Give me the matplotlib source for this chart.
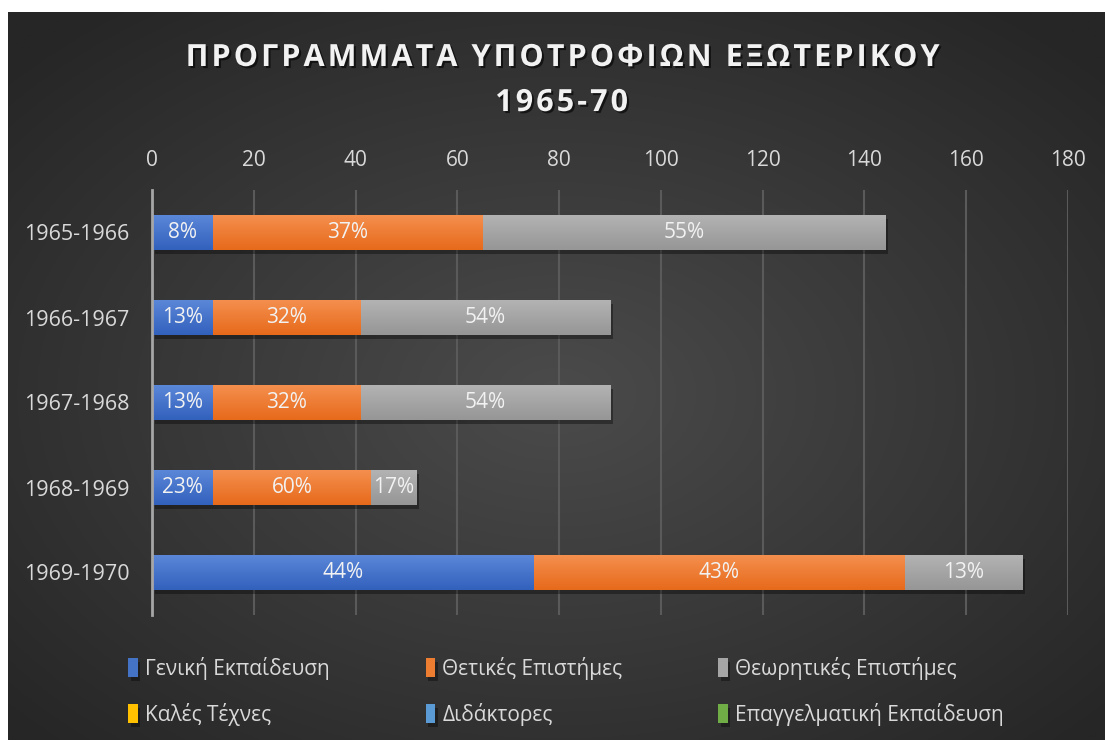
import matplotlib
matplotlib.use("Agg")
import matplotlib.pyplot as plt
import matplotlib.patheffects as pe
from matplotlib.colors import LinearSegmentedColormap
import numpy as np

# 字体
plt.rcParams["font.family"] = ["Open Sans", "Noto Sans", "DejaVu Sans"]

# 数据
years = ["1965-1966", "1966-1967", "1967-1968", "1968-1969", "1969-1970"]
series_names = ["Γενική Εκπαίδευση", "Θετικές Επιστήμες", "Θεωρητικές Επιστήμες",
                "Καλές Τέχνες", "Διδάκτορες", "Επαγγελματική Εκπαίδευση"]
general = [12, 12, 12, 12, 75]
science = [53, 29, 29, 31, 73]
theory = [79, 49, 49, 9, 23]
arts = [0, 0, 0, 0, 0]
doctors = [0, 0, 0, 0, 0]
vocational = [0, 0, 0, 0, 0]
xticks = [0, 20, 40, 60, 80, 100, 120, 140, 160, 180]

series = [general, science, theory, arts, doctors, vocational]
colors = ["#4472C4", "#ED7D31", "#A5A5A5", "#FFC000", "#5B9BD5", "#70AD47"]
tops = ["#5B87D8", "#F48F4E", "#B3B3B3", "#FFCB33", "#6FA9DD", "#7FBA58"]
bottoms = ["#3261BD", "#E76A1B", "#969696", "#F0B400", "#4A8BC8", "#61A03A"]

fig = plt.figure(figsize=(11.05, 7.40), dpi=100, facecolor="white")

# 背景（径向渐变）
bg = fig.add_axes([8 / 1105, 0, 1 - 8 / 1105, 1 - 12 / 740], zorder=-1)
gx, gy = np.meshgrid(np.linspace(-1, 1, 400), np.linspace(-1, 1, 300))
r = np.clip(np.sqrt(gx ** 2 + (gy - 0.05) ** 2) / 1.35, 0, 1)
shade = 0x4b - (0x4b - 0x26) * r
bg.imshow(np.dstack([shade / 255] * 3), aspect="auto", extent=[0, 1, 0, 1])
bg.axis("off")

ax = fig.add_axes([152 / 1105, 1 - 615 / 740, (1068 - 152) / 1105, (615 - 190) / 740])
ax.set_facecolor("none")

ypos = np.arange(len(years))
left = np.zeros(len(years))
bar_h = 0.41
for vals, name, c, ct, cb in zip(series, series_names, colors, tops, bottoms):
    bars = ax.barh(ypos, vals, left=left, height=bar_h, color=c, label=name, zorder=3,
                   path_effects=[pe.withSimplePatchShadow(offset=(2, -3), shadow_rgbFace="black", alpha=0.35)])
    cmap = LinearSegmentedColormap.from_list(name, [ct, cb])
    grad = np.linspace(0, 1, 64).reshape(-1, 1)
    for rect in bars:
        if rect.get_width() <= 0:
            continue
        x0, y0 = rect.get_x(), rect.get_y()
        im = ax.imshow(grad, cmap=cmap, aspect="auto", zorder=4,
                       extent=[x0, x0 + rect.get_width(), y0 + rect.get_height(), y0])
        im.set_clip_path(rect)
    left = left + np.array(vals)

# 数据标签（百分比）
totals = left
left = np.zeros(len(years))
for vals in series:
    for i, v in enumerate(vals):
        if v > 0:
            ax.text(left[i] + v / 2, ypos[i], f"{round(v / totals[i] * 100)}%",
                    ha="center", va="center", color="#F2F2F2", fontsize=15, zorder=6)
    left = left + np.array(vals)

ax.set_xlim(0, 180)
ax.set_ylim(len(years) - 0.5, -0.5)
ax.set_xticks(xticks)
ax.set_yticks(ypos)
ax.set_yticklabels(years)
ax.xaxis.tick_top()
ax.tick_params(axis="x", length=0, pad=14, labelsize=15, colors="#D9D9D9")
ax.tick_params(axis="y", length=0, pad=16, labelsize=15.5, colors="#D9D9D9")
ax.grid(True, axis="x", color="#5A5A5A", linewidth=1.5, zorder=0)
for s in ["top", "right", "bottom"]:
    ax.spines[s].set_visible(False)
ax.spines["left"].set_color("#A6A6A6")
ax.spines["left"].set_linewidth(2)
ax.spines["left"].set_zorder(5)

# 标题（字母间距用 hair space 模拟）
title_fx = [pe.withSimplePatchShadow(offset=(1.5, -1.5), shadow_rgbFace="black", alpha=0.6)]
fig.text(0.508, 1 - 58 / 740, "\u200a".join("ΠΡΟΓΡΑΜΜΑΤΑ ΥΠΟΤΡΟΦΙΩΝ ΕΞΩΤΕΡΙΚΟΥ"), ha="center", va="center",
         fontsize=22, fontweight="bold", color="#F2F2F2", path_effects=title_fx)
fig.text(0.508, 1 - 103 / 740, "\u200a".join("1965-70"), ha="center", va="center",
         fontsize=22, fontweight="bold", color="#F2F2F2", path_effects=title_fx)

# 图例（按行排列）
handles, labels = ax.get_legend_handles_labels()
order = [0, 3, 1, 4, 2, 5]
leg = fig.legend([handles[i] for i in order], [labels[i] for i in order], ncol=3,
                 loc="lower left", bbox_to_anchor=(120 / 1105, 1 - 734 / 740, (1012 - 120) / 1105, 90 / 740),
                 mode="expand", frameon=False, fontsize=15, handlelength=0.45, handleheight=1.0,
                 handletextpad=0.35, labelspacing=1.1, borderaxespad=0)
for t in leg.get_texts():
    t.set_color("#D9D9D9")

fig.savefig("out.png", dpi=100, facecolor=fig.get_facecolor())
